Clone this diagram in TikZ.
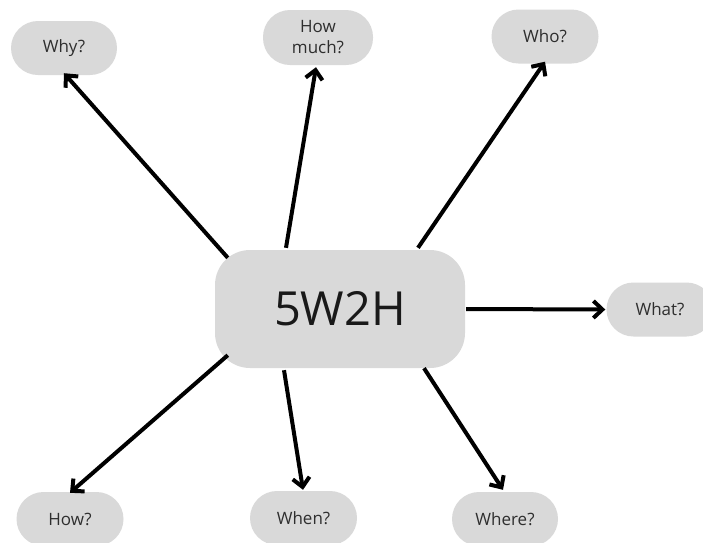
\documentclass[tikz,border=0pt]{standalone}
\usepackage{fontspec}
\setmainfont{Open Sans}
\usetikzlibrary{arrows.meta}
\definecolor{pill}{HTML}{D9D9D9}
\definecolor{label}{HTML}{2E2E2E}
\tikzset{
  qbox/.style={fill=pill, draw=none, rounded corners=27pt, minimum width=107pt,
    minimum height=54pt, inner sep=0pt, text=label, align=center,
    font=\fontsize{17}{21}\selectfont},
  hub/.style={fill=pill, draw=none, rounded corners=35pt, minimum width=250pt,
    minimum height=118pt, inner sep=0pt, text=black!90,
    font=\fontsize{47}{50}\selectfont},
  arr/.style={line width=4pt, black,
    -{Straight Barb[length=9pt,width=17pt,line width=4pt]}},
}
\begin{document}
\begin{tikzpicture}[x=1pt,y=-1pt]
  \useasboundingbox (0,0) rectangle (703,542);
  \clip (0,0) rectangle (703,542);
  \fill[white] (0,0) rectangle (703,542);

  % central topic
  \node[hub] (c) at (340,309) {5W2H};

  % question bubbles
  \node[qbox, minimum width=106pt] (why) at (64,48) {Why?};
  \node[qbox, minimum width=110pt, minimum height=55pt] (hm) at (318,37.5) {How\\much?};
  \node[qbox] (who) at (545,36.5) {Who?};
  \node[qbox] (what) at (660,309.5) {What?};
  \node[qbox] (how) at (70,519) {How?};
  \node[qbox] (when) at (303.5,518) {When?};
  \node[qbox, minimum width=106pt] (where) at (505,519) {Where?};

  % connectors from the hub
  \draw[arr] ([shift={(13,8)}]c.north west) -- ([yshift=2]why.south);
  \draw[arr] ([shift={(-54,-2)}]c.north) -- ([shift={(-2,2)}]hm.south);
  \draw[arr] ([shift={(78,-2)}]c.north) -- ([yshift=2]who.south);
  \draw[arr] ([xshift=1]c.east) -- ([xshift=-1]what.west);
  \draw[arr] ([shift={(13,-13)}]c.south west) -- ([yshift=-1]how.north);
  \draw[arr] ([shift={(-56,2)}]c.south) -- ([shift={(-0.5,-1)}]when.north);
  \draw[arr] ([shift={(84,0)}]c.south) -- ([shift={(-2,-2)}]where.north);
\end{tikzpicture}
\end{document}
